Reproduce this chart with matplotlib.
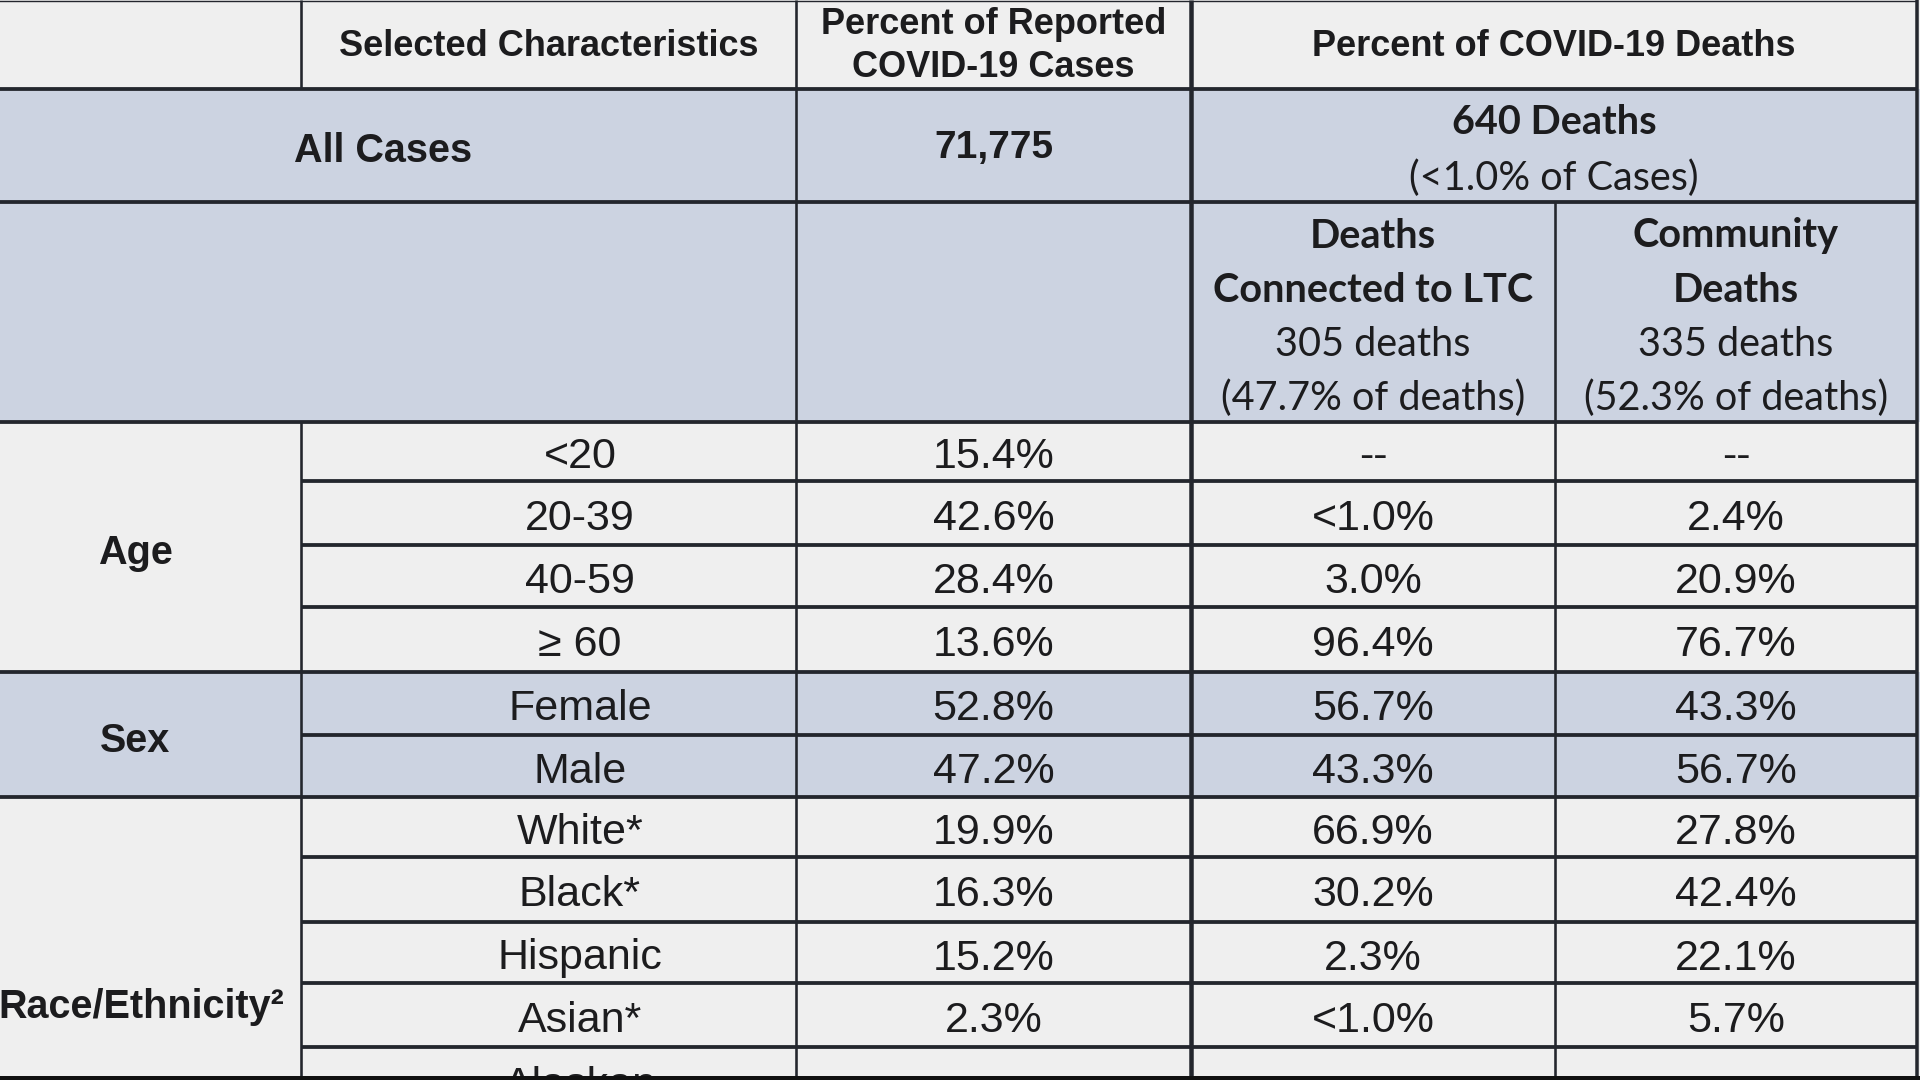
import matplotlib
matplotlib.use("Agg")
import matplotlib.pyplot as plt
from matplotlib.patches import Rectangle

# ---------------- data ----------------
header_characteristics = "Selected Characteristics"
header_cases = "Percent of Reported\nCOVID-19 Cases"
header_deaths = "Percent of COVID-19 Deaths"
all_cases_label = "All Cases"
total_cases = 71775
total_deaths = 640
deaths_pct_of_cases = "<1.0%"
ltc_title = "Deaths\nConnected to LTC"
ltc_deaths = 305
ltc_share = 47.7
community_title = "Community\nDeaths"
community_deaths = 335
community_share = 52.3

groups = ["Age", "Sex", "Race/Ethnicity²"]
age_categories = ["<20", "20-39", "40-59", "≥ 60"]
age_cases = ["15.4%", "42.6%", "28.4%", "13.6%"]
age_ltc = ["--", "<1.0%", "3.0%", "96.4%"]
age_community = ["--", "2.4%", "20.9%", "76.7%"]
sex_categories = ["Female", "Male"]
sex_cases = ["52.8%", "47.2%"]
sex_ltc = ["56.7%", "43.3%"]
sex_community = ["43.3%", "56.7%"]
race_categories = ["White*", "Black*", "Hispanic", "Asian*", "Alaskan"]
race_cases = ["19.9%", "16.3%", "15.2%", "2.3%", ""]
race_ltc = ["66.9%", "30.2%", "2.3%", "<1.0%", ""]
race_community = ["27.8%", "42.4%", "22.1%", "5.7%", ""]

# ---------------- layout ----------------
W, H = 1920, 1080
col_x = [-30, 301, 796, 1191, 1555, 1917]
head_y = [0, 89, 202, 422]
body_y = [422, 481, 545, 607, 672, 735, 797, 857, 922, 983, 1047, 1140]
race_group_bottom = 1205
cat_x = 580
dy = 6
group_dx = [0, 0, 6]
WHITE = "#efefef"
BLUE = "#ccd3e1"
LINE = "#23262d"
TXT = "#1c1c1e"
ARIAL = ["Liberation Sans", "DejaVu Sans"]
CALI = ["Lato", "DejaVu Sans"]

fig = plt.figure(figsize=(19.2, 10.8), dpi=100)
fig.patch.set_facecolor(WHITE)
ax = fig.add_axes([0, 0, 1, 1])
ax.set_xlim(0, W)
ax.set_ylim(H, 0)
ax.axis("off")

def fill(x0, x1, y0, y1, c):
    ax.add_patch(Rectangle((x0, y0), x1 - x0, y1 - y0, facecolor=c, edgecolor="none", zorder=0))

def cx(i, j=None):
    j = i + 1 if j is None else j
    return (col_x[i] + col_x[j]) / 2

def txt(x, y, s, size, family, weight="normal", va="center", ls=1.2):
    ax.text(x, y, s, fontsize=size, family=family, fontweight=weight, ha="center", va=va,
            color=TXT, zorder=3, linespacing=ls, multialignment="center")

# backgrounds
fill(col_x[0], W, head_y[0], head_y[1], WHITE)
fill(col_x[0], W, head_y[1], head_y[3], BLUE)
group_sizes = [len(age_categories), len(sex_categories), len(race_categories)]
group_colors = [WHITE, BLUE, WHITE]
start = 0
group_spans = []
for n, c in zip(group_sizes, group_colors):
    y0, y1 = body_y[start], body_y[start + n]
    fill(col_x[0], W, y0, y1, c)
    group_spans.append((start, start + n))
    start += n

# lines
hpx = 3.8 * 0.72
vpx = 2.6 * 0.72
ax.hlines(head_y[0] + 1, col_x[0], col_x[-1], color=LINE, lw=1.0, zorder=2)
for y in head_y[1:]:
    ax.hlines(y, col_x[0], col_x[-1], color=LINE, lw=hpx, zorder=2)
for gi, (a, b) in enumerate(group_spans):
    for r in range(a + 1, b):
        ax.hlines(body_y[r], col_x[1], col_x[-1], color=LINE, lw=hpx, zorder=2)
    if b < len(body_y) - 1:
        ax.hlines(body_y[b], col_x[0], col_x[-1], color=LINE, lw=hpx, zorder=2)
ax.vlines(col_x[1], head_y[0], head_y[1], color=LINE, lw=vpx, zorder=2)
ax.vlines(col_x[1], head_y[3], H, color=LINE, lw=vpx, zorder=2)
ax.vlines(col_x[2], 0, H, color=LINE, lw=vpx, zorder=2)
ax.vlines(col_x[3], 0, H, color=LINE, lw=4.5 * 0.72, zorder=2)
ax.vlines(col_x[4], head_y[2], H, color=LINE, lw=vpx, zorder=2)
ax.vlines(col_x[5], 0, H, color=LINE, lw=3.5 * 0.72, zorder=2)
ax.add_patch(Rectangle((0, 1076), W, 4, facecolor="#111111", edgecolor="none", zorder=4))

# header texts
txt(cx(1), 47, header_characteristics, 26, ARIAL, "bold")
txt(cx(2), 46, header_cases, 26, ARIAL, "bold", ls=1.33)
txt(cx(3, 5), 47, header_deaths, 26, ARIAL, "bold")

ymid = (head_y[1] + head_y[2]) / 2
txt(cx(0, 2), ymid + dy, all_cases_label, 28.5, ARIAL, "bold")
txt(cx(2), ymid + 2, f"{total_cases:,}", 28, ARIAL, "bold")
txt(cx(3, 5), 123, f"{total_deaths} Deaths", 28.5, CALI, "bold")
txt(cx(3, 5), 178, f"({deaths_pct_of_cases} of Cases)", 28.5, CALI)

for col, title, n, share in [(3, ltc_title, ltc_deaths, ltc_share),
                             (4, community_title, community_deaths, community_share)]:
    t1, t2 = title.split("\n")
    txt(cx(col), 236, t1, 28.5, CALI, "bold")
    txt(cx(col), 291, t2, 28.5, CALI, "bold")
    txt(cx(col), 345, f"{n} deaths", 28.5, CALI)
    txt(cx(col), 398, f"({share}% of deaths)", 28.5, CALI)

# body
cats = age_categories + sex_categories + race_categories
cases = age_cases + sex_cases + race_cases
ltc = age_ltc + sex_ltc + race_ltc
comm = age_community + sex_community + race_community
for i, (c, a, b, d) in enumerate(zip(cats, cases, ltc, comm)):
    y = (body_y[i] + body_y[i + 1]) / 2 + dy
    if i == len(cats) - 1:
        txt(cat_x, 1066, c, 31, ARIAL, va="top")
        continue
    txt(cat_x, y, c, 31, ARIAL)
    txt(cx(2), y, a, 31, ARIAL)
    txt(cx(3), y, b, 31, ARIAL)
    txt(cx(4), y, d, 31, ARIAL)

for gi, (g, (a, b)) in enumerate(zip(groups, group_spans)):
    y1 = race_group_bottom if gi == 2 else body_y[b]
    txt(cx(0) + group_dx[gi], (body_y[a] + y1) / 2 + dy, g, 28.5, ARIAL, "bold")

fig.savefig("out.png", dpi=100, facecolor=fig.get_facecolor())
